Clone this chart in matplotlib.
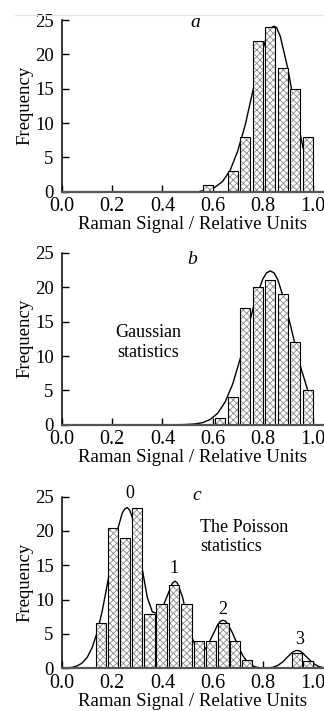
import matplotlib
matplotlib.use("Agg")
import matplotlib.pyplot as plt
from matplotlib.lines import Line2D

plt.rcParams['font.family'] = ['Liberation Serif', 'DejaVu Serif']
plt.rcParams['hatch.linewidth'] = 0.6

# panel a: histogram + fitted curve
a_centers = [0.58, 0.68, 0.73, 0.78, 0.83, 0.88, 0.93, 0.98]
a_counts = [1, 3, 8, 22, 24, 18, 15, 8]
a_curve_x = [0.55, 0.58, 0.61, 0.64, 0.67, 0.70, 0.73, 0.76, 0.79, 0.82,
             0.835, 0.845, 0.855, 0.87, 0.90, 0.93, 0.96, 0.98]
a_curve_y = [0.06, 0.25, 0.65, 1.5, 3.1, 5.9, 9.7, 14.6, 19.5, 23.1,
             23.9, 24.1, 23.9, 22.6, 17.9, 11.8, 6.5, 3.9]

# panel b
b_centers = [0.63, 0.68, 0.73, 0.78, 0.83, 0.88, 0.93, 0.98]
b_counts = [1, 4, 17, 20, 21, 19, 12, 5]
b_curve_x = [0.47, 0.50, 0.53, 0.56, 0.59, 0.62, 0.65, 0.68, 0.71, 0.74,
             0.77, 0.80, 0.815, 0.83, 0.845, 0.86, 0.89, 0.92, 0.95, 0.98]
b_curve_y = [0.0, 0.04, 0.11, 0.3, 0.75, 1.65, 3.3, 5.9, 9.6, 13.9,
             18.1, 21.2, 22.1, 22.4, 22.1, 21.1, 17.6, 13.0, 8.5, 4.9]

# panel c
c_centers = [0.155, 0.203, 0.251, 0.299, 0.349, 0.397, 0.446, 0.496, 0.545,
             0.594, 0.643, 0.69, 0.737, 0.935, 0.98]
c_counts = [6.6, 20.5, 19.0, 23.3, 7.9, 9.3, 12.2, 9.4, 4.0, 4.0, 6.6, 4.0,
            1.2, 2.3, 1.1]
c_curve_x = [0.02, 0.04, 0.06, 0.08, 0.10, 0.12, 0.14, 0.16, 0.18, 0.20,
             0.22, 0.24, 0.25, 0.26, 0.27, 0.28, 0.30, 0.32, 0.34, 0.36,
             0.38, 0.40, 0.42, 0.44, 0.45, 0.46, 0.48, 0.50, 0.52, 0.54,
             0.56, 0.58, 0.60, 0.62, 0.63, 0.64, 0.65, 0.66, 0.68, 0.70,
             0.72, 0.74, 0.76, 0.78, 0.80, 0.82, 0.84, 0.86, 0.88, 0.90,
             0.92, 0.93, 0.94, 0.95, 0.96, 0.98, 1.00, 1.02, 1.04]
c_curve_y = [0.05, 0.14, 0.34, 0.76, 1.57, 3.0, 5.2, 8.3, 12.1, 16.3,
             20.0, 22.6, 23.2, 23.4, 23.0, 22.0, 18.6, 14.4, 10.3, 8.2,
             8.0, 8.8, 10.6, 12.4, 12.7, 12.4, 10.4, 7.2, 4.3, 2.6,
             2.3, 3.3, 4.8, 6.3, 6.8, 7.0, 6.9, 6.5, 5.1, 3.4,
             1.87, 0.87, 0.34, 0.11, 0.04, 0.04, 0.14, 0.41, 0.94, 1.7,
             2.38, 2.56, 2.6, 2.47, 2.2, 1.46, 0.75, 0.3, 0.1]
peak_labels = ['0', '1', '2', '3']
peak_x = [0.27, 0.446, 0.639, 0.948]
peak_y = [25.5, 14.6, 8.5, 4.2]

xticks = [0.0, 0.2, 0.4, 0.6, 0.8, 1.0]
yticks = [0, 5, 10, 15, 20, 25]

W, H = 324, 711
fig = plt.figure(figsize=(W / 100, H / 100), dpi=100)
fig.add_artist(Line2D([15 / W, 1], [1 - 15 / H, 1 - 15 / H], color='#e4e4e4', lw=0.8))

left = 62 / W
width = (W - 62) / W
axh = 171.7 / H
bottoms = [(H - 191.7) / H, (H - 424.7) / H, (H - 668.3) / H]
FS = 13.5


def panel(ax, centers, counts, cx, cy, width_bar):
    ax.plot(cx, cy, color='black', lw=1.0, zorder=1, solid_joinstyle='round')
    ax.bar(centers, counts, width=width_bar, color='white', edgecolor='#8a8a8a',
           hatch='xxxxx', linewidth=0, zorder=2)
    ax.bar(centers, counts, width=width_bar, fill=False, edgecolor='black',
           linewidth=0.8, zorder=3)
    ax.set_xlim(0, 1.044)
    ax.set_ylim(0, 25)
    ax.set_xticks(xticks)
    ax.set_xticklabels(['%.1f' % t for t in xticks])
    ax.set_yticks(yticks)
    for s in ['top', 'right']:
        ax.spines[s].set_visible(False)
    ax.spines['left'].set_linewidth(1.1)
    ax.spines['bottom'].set_linewidth(1.6)
    ax.spines['bottom'].set_color('#555555')
    ax.spines['left'].set_zorder(4)
    ax.spines['bottom'].set_zorder(4)
    ax.tick_params(axis='both', direction='in', length=5, width=1, labelsize=FS)
    ax.tick_params(axis='x', labelsize=14.5, pad=4)
    ax.tick_params(axis='y', pad=6)
    ax.set_ylabel('Frequency', fontsize=FS, labelpad=1)
    ax.set_xlabel('Raman Signal / Relative Units', fontsize=FS, labelpad=0)
    ax.patch.set_alpha(0)


ax_a = fig.add_axes([left, bottoms[0], width, axh])
panel(ax_a, a_centers, a_counts, a_curve_x, a_curve_y, 0.04)
ax_a.text(0.53, 24.6, 'a', style='italic', fontsize=14, ha='center', va='center')

ax_b = fig.add_axes([left, bottoms[1], width, axh])
panel(ax_b, b_centers, b_counts, b_curve_x, b_curve_y, 0.04)
ax_b.text(0.52, 24.0, 'b', style='italic', fontsize=14, ha='center', va='center')
ax_b.text(0.343, 12.0, 'Gaussian\nstatistics', fontsize=13, ha='center', va='center')

ax_c = fig.add_axes([left, bottoms[2], width, axh])
panel(ax_c, c_centers, c_counts, c_curve_x, c_curve_y, 0.041)
ax_c.text(0.537, 25.1, 'c', style='italic', fontsize=14, ha='center', va='center')
ax_c.text(0.55, 19.1, 'The Poisson\nstatistics', fontsize=13, ha='left', va='center')
for lab, px, py in zip(peak_labels, peak_x, peak_y):
    ax_c.text(px, py, lab, fontsize=13, ha='center', va='center', clip_on=False)

fig.savefig('out.png', dpi=100)
